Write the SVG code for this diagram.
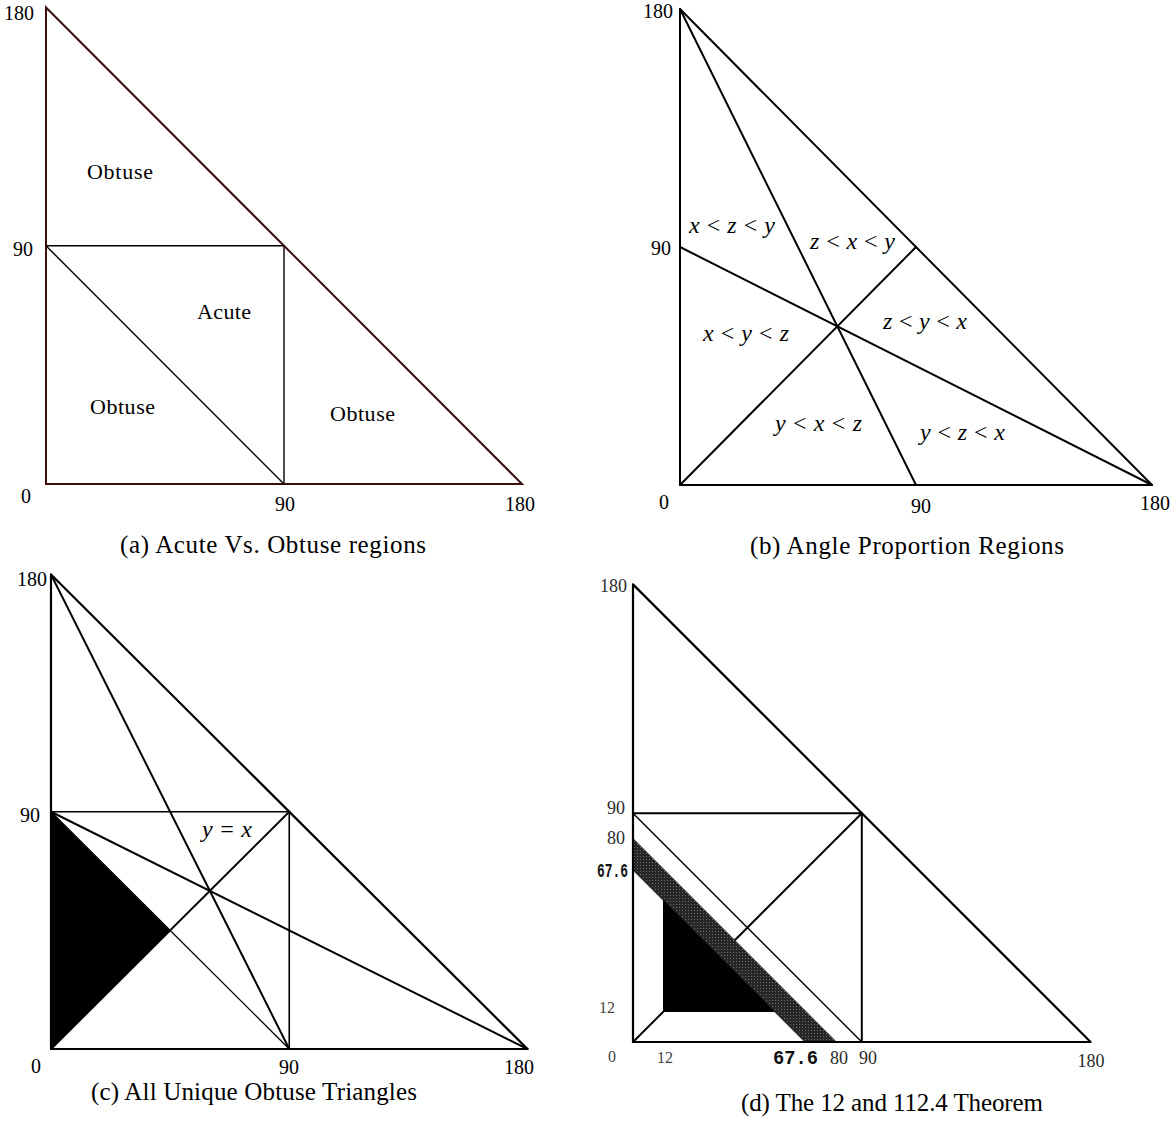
<svg xmlns="http://www.w3.org/2000/svg" width="1175" height="1128" viewBox="0 0 1175 1128">
<style>
text{font-family:"Liberation Serif","Times New Roman",serif;fill:#000}
.ax{font-size:20px}
.axd{font-size:18px;fill:#2a2a2a}
.axs{font-size:16px;fill:#444}
.mono{font-family:"Liberation Mono","Courier New",monospace;font-weight:bold;fill:#111}
.lab{font-size:22px}
.cap{font-size:25px}
.m{font-size:24px;font-style:italic}
.op{font-style:normal}
.l{fill:none;stroke:#000;stroke-linecap:round;stroke-linejoin:round}
.outa{fill:none;stroke:#3b0d0d;stroke-width:2;stroke-linejoin:miter}
.thin{stroke-width:1.4}
.med{stroke-width:2}
.bold{stroke-width:2.2}
</style>
<defs>
<pattern id="hatch" patternUnits="userSpaceOnUse" width="3" height="3">
<rect width="3" height="3" fill="#262626"/>
<rect x="1" y="1" width="1" height="1" fill="#6e6e6e"/>
</pattern>
</defs>
<rect width="1175" height="1128" fill="#fff"/>

<g id="panel-a">
<polyline class="l thin" points="46,245.75 284,245.75 284,484"/>
<line class="l thin" x1="46" y1="245.75" x2="284" y2="484"/>
<polygon class="outa" points="46,7.5 46,484 522,484"/>
<text class="lab" x="87" y="179" textLength="66">Obtuse</text>
<text class="lab" x="197" y="319" textLength="54">Acute</text>
<text class="lab" x="90" y="414" textLength="65">Obtuse</text>
<text class="lab" x="330" y="421" textLength="65">Obtuse</text>
<text class="ax" x="34" y="20" text-anchor="end">180</text>
<text class="ax" x="33" y="256" text-anchor="end">90</text>
<text class="ax" x="26" y="503" text-anchor="middle">0</text>
<text class="ax" x="285" y="511" text-anchor="middle">90</text>
<text class="ax" x="520" y="511" text-anchor="middle">180</text>
<text class="cap" x="120" y="553" textLength="306">(a) Acute Vs.  Obtuse regions</text>
</g>

<g id="panel-b">
<line class="l med" x1="680" y1="9" x2="916" y2="485"/>
<line class="l med" x1="680" y1="247" x2="1152" y2="485"/>
<line class="l med" x1="680" y1="485" x2="916" y2="247"/>
<polygon class="l med" points="680,9 680,485 1152,485"/>
<text class="m" x="689" y="233" textLength="86">x <tspan class="op">&lt;</tspan> z <tspan class="op">&lt;</tspan> y</text>
<text class="m" x="810" y="249" textLength="85">z <tspan class="op">&lt;</tspan> x <tspan class="op">&lt;</tspan> y</text>
<text class="m" x="703" y="341" textLength="86">x <tspan class="op">&lt;</tspan> y <tspan class="op">&lt;</tspan> z</text>
<text class="m" x="883" y="329" textLength="84">z <tspan class="op">&lt;</tspan> y <tspan class="op">&lt;</tspan> x</text>
<text class="m" x="775" y="431" textLength="87">y <tspan class="op">&lt;</tspan> x <tspan class="op">&lt;</tspan> z</text>
<text class="m" x="920" y="440" textLength="85">y <tspan class="op">&lt;</tspan> z <tspan class="op">&lt;</tspan> x</text>
<text class="ax" x="673" y="18" text-anchor="end">180</text>
<text class="ax" x="671" y="255" text-anchor="end">90</text>
<text class="ax" x="664" y="509" text-anchor="middle">0</text>
<text class="ax" x="921" y="513" text-anchor="middle">90</text>
<text class="ax" x="1155" y="510" text-anchor="middle">180</text>
<text class="cap" x="750" y="554" textLength="314">(b) Angle Proportion Regions</text>
</g>

<g id="panel-c">
<polygon points="51,811.75 51,1049 170.1,930.4" fill="#000"/>
<polyline class="l" stroke-width="1.6" points="51,811.75 289.25,811.75 289.25,1049"/>
<line class="l" stroke-width="1.3" x1="51" y1="811.75" x2="289.25" y2="1049"/>
<line class="l med" x1="51" y1="1049" x2="289.25" y2="811.75"/>
<line class="l med" x1="51" y1="574.5" x2="289.25" y2="1049"/>
<line class="l med" x1="51" y1="811.75" x2="527.5" y2="1049"/>
<polygon class="l bold" points="51,574.5 51,1049 527.5,1049"/>
<text class="m" x="202" y="837" textLength="50">y <tspan class="op">=</tspan> x</text>
<text class="ax" x="47" y="586" text-anchor="end">180</text>
<text class="ax" x="40" y="822" text-anchor="end">90</text>
<text class="ax" x="36" y="1073" text-anchor="middle">0</text>
<text class="ax" x="289" y="1074" text-anchor="middle">90</text>
<text class="ax" x="519" y="1074" text-anchor="middle">180</text>
<text class="cap" x="91" y="1100" textLength="326">(c) All Unique Obtuse Triangles</text>
</g>

<g id="panel-d">
<polyline class="l med" points="633,813.2 861.8,813.2 861.8,1042"/>
<line class="l thin" x1="633" y1="813.2" x2="861.8" y2="1042"/>
<line class="l med" x1="633" y1="1042" x2="861.8" y2="813.2"/>
<polygon points="633,838.6 633,870.2 804.8,1042 836.4,1042" fill="url(#hatch)" stroke="#333" stroke-width="1"/>
<polygon points="663.5,1011.5 663.5,900.7 774.3,1011.5" fill="#000" stroke="#000" stroke-width="1"/>
<polygon class="l bold" points="633,584.4 633,1042 1090.6,1042"/>
<text class="axd" x="627" y="592" text-anchor="end">180</text>
<text class="axd" x="625" y="814" text-anchor="end">90</text>
<text class="axd" x="625" y="844" text-anchor="end">80</text>
<text class="mono" x="597" y="877" font-size="20" textLength="31" lengthAdjust="spacingAndGlyphs">67.6</text>
<text class="axs" x="615" y="1013" text-anchor="end">12</text>
<text class="axs" x="612" y="1062" text-anchor="middle">0</text>
<text class="axs" x="665" y="1063" text-anchor="middle">12</text>
<text class="mono" x="773" y="1064" font-size="20" textLength="45" lengthAdjust="spacingAndGlyphs">67.6</text>
<text class="axd" x="839" y="1064" text-anchor="middle">80</text>
<text class="axd" x="868" y="1064" text-anchor="middle">90</text>
<text class="axd" x="1091" y="1067" text-anchor="middle">180</text>
<text class="cap" x="741" y="1111" textLength="302">(d) The 12 and 112.4 Theorem</text>
</g>
</svg>
